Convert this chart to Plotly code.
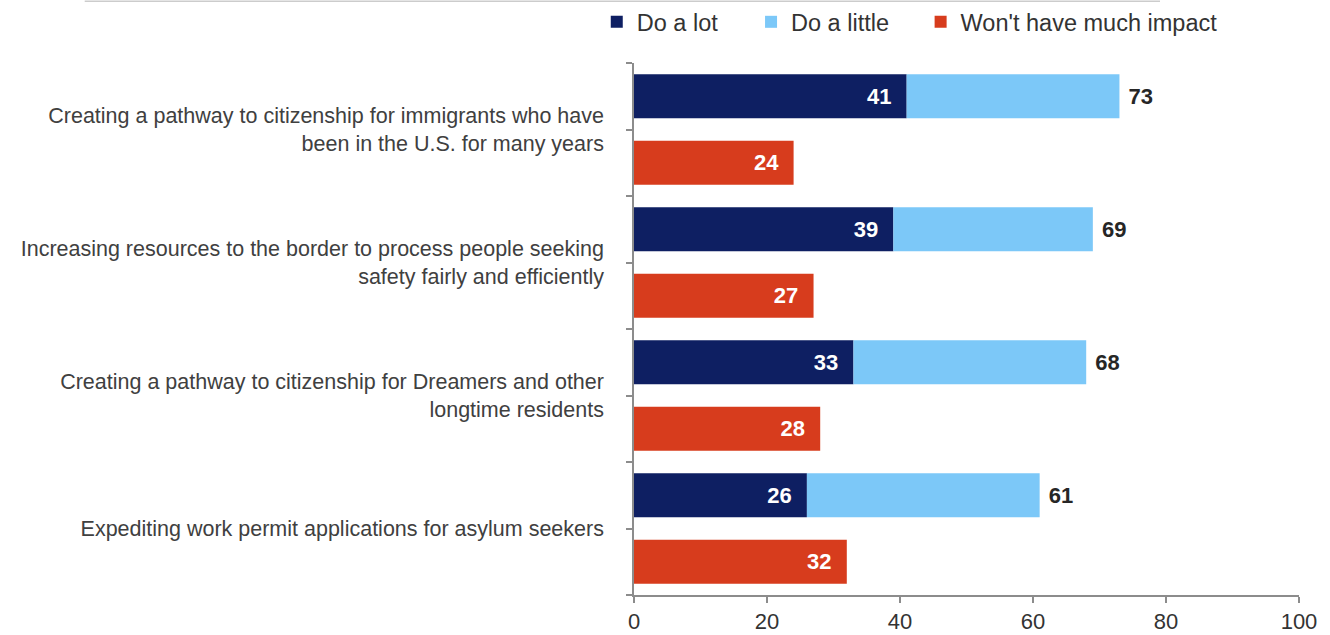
import plotly.graph_objects as go

categories = [
    "Creating a pathway to citizenship for immigrants who have<br>been in the U.S. for many years",
    "Increasing resources to the border to process people seeking<br>safety fairly and efficiently",
    "Creating a pathway to citizenship for Dreamers and other<br>longtime residents",
    "Expediting work permit applications for asylum seekers",
]
do_a_lot = [41, 39, 33, 26]
do_total = [73, 69, 68, 61]
no_impact = [24, 27, 28, 32]
x_ticks = [0, 20, 40, 60, 80, 100]

NAVY = "#0E1F62"
LIGHT = "#7CC8F8"
RED = "#D73C1D"
TXT = "#404040"
FONT = "Liberation Sans, Arial, sans-serif"
NB = "\u00a0"

n = len(categories)
y_top = [2 * i for i in range(n)]
y_bot = [2 * i + 1 for i in range(n)]
do_little = [t - a for t, a in zip(do_total, do_a_lot)]

fig = go.Figure()
fig.add_trace(go.Bar(
    y=y_top, x=do_a_lot, base=[0] * n, orientation="h", name="Do a lot", legend="legend",
    marker=dict(color=NAVY, line=dict(width=0)), width=0.66,
    text=[f"{v}{NB}{NB}" for v in do_a_lot], textposition="inside", insidetextanchor="end",
    textfont=dict(color="white", size=22, family=FONT, weight="bold"),
    textangle=0, constraintext="none", hoverinfo="skip",
))
fig.add_trace(go.Bar(
    y=y_top, x=do_little, base=do_a_lot, orientation="h", name="Do a little", legend="legend2",
    marker=dict(color=LIGHT, line=dict(width=0)), width=0.66,
    text=[f"{NB}{v}" for v in do_total], textposition="outside",
    textfont=dict(color="#262626", size=22, family=FONT, weight="bold"),
    textangle=0, constraintext="none", cliponaxis=False, hoverinfo="skip",
))
fig.add_trace(go.Bar(
    y=y_bot, x=no_impact, base=[0] * n, orientation="h", name="Won't have much impact",
    legend="legend3",
    marker=dict(color=RED, line=dict(width=0)), width=0.66,
    text=[f"{v}{NB}{NB}" for v in no_impact], textposition="inside", insidetextanchor="end",
    textfont=dict(color="white", size=22, family=FONT, weight="bold"),
    textangle=0, constraintext="none", hoverinfo="skip",
))

tickvals = [k - 0.5 for k in range(2 * n + 1)]
ticktext = [categories[(k - 1) // 2] if k % 2 == 1 else "" for k in range(2 * n + 1)]


def leg(xpos):
    return dict(
        orientation="h", x=xpos, xanchor="left", y=1.077, yanchor="middle",
        font=dict(size=23.5, color="#333333", family=FONT),
        itemclick=False, itemdoubleclick=False, bgcolor="rgba(0,0,0,0)",
    )


fig.update_layout(
    width=1330, height=635,
    margin=dict(l=634, r=31, t=63, b=40, autoexpand=False),
    barmode="overlay",
    plot_bgcolor="white", paper_bgcolor="white",
    font=dict(family=FONT, color=TXT),
    showlegend=True,
    legend=leg(-0.056),
    legend2=leg(0.176),
    legend3=leg(0.431),
    xaxis=dict(
        range=[0, 100], tickvals=x_ticks, ticktext=[str(v) for v in x_ticks],
        showgrid=False, zeroline=False, showline=True, linecolor="#8c8c8c", linewidth=1.5,
        ticks="outside", ticklen=6, tickcolor="#8c8c8c", tickwidth=1.5,
        tickfont=dict(size=22, color="#333333", family=FONT),
    ),
    yaxis=dict(
        range=[2 * n - 0.5, -0.5], tickmode="array", tickvals=tickvals, ticktext=ticktext,
        showgrid=False, zeroline=False, showline=True, linecolor="#8c8c8c", linewidth=1.5,
        ticks="outside", ticklen=6, tickcolor="#8c8c8c", tickwidth=1.5,
        tickfont=dict(size=21.5, color=TXT, family=FONT),
        ticklabelstandoff=18,
    ),
    shapes=[dict(
        type="line", xref="paper", yref="paper", x0=-0.826, x1=0.791, y0=1.116, y1=1.116,
        line=dict(color="#cccccc", width=1.5),
    )],
)

fig.write_html("out.html")
